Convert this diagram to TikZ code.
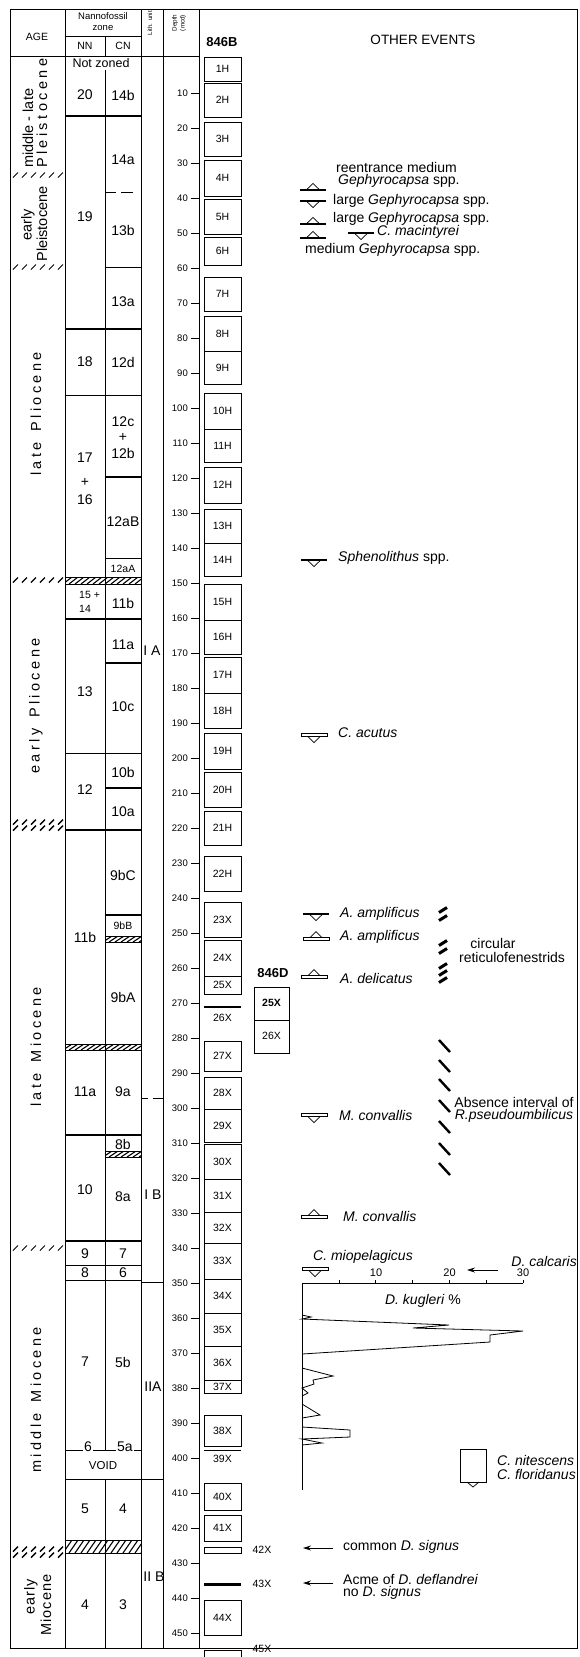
\documentclass[tikz,border=0pt]{standalone}
\usepackage{fontspec}
\setmainfont{Liberation Sans}
\usetikzlibrary{arrows.meta}
\newcommand{\lsp}{\kern3.4pt}
\newcommand{\gsp}{\kern1pt}
\newcommand{\hband}[4]{%
  \begin{scope}
    \clip (#1,#3) rectangle (#2,#4);
    \foreach \hx in {-14,-8,...,86} {\draw[line width=1.1pt] ({#1+\hx},#4) -- ({#1+\hx+9},#3);}
  \end{scope}
  \draw[line width=0.8pt] (#1,#3) rectangle (#2,#4);}
\newcommand{\agemarks}[2]{%
  \foreach \mx in {13,22,...,58} {\draw[line width=#2] (\mx,{#1+2.5}) -- ({\mx+5},{#1-2.5});}}
\newcommand{\core}[3]{\draw[corebox] (204,#1) rectangle (241,#2);
  \node[cl] (core#3) at (222.5,{(#1+#2)/2}) {#3};}
\newcommand{\evup}[2]{\draw[line width=1.6pt] ({#1-13},#2) -- ({#1+13},#2);
  \draw[line width=0.7pt] ({#1-6},{#2-0.8}) -- (#1,{#2-6.5}) -- ({#1+6},{#2-0.8});}
\newcommand{\evdown}[2]{\draw[line width=1.6pt] ({#1-13},#2) -- ({#1+13},#2);
  \draw[line width=0.7pt] ({#1-6},{#2+0.8}) -- (#1,{#2+6.5}) -- ({#1+6},{#2+0.8});}
\newcommand{\evupo}[2]{\draw[line width=0.7pt] ({#1-13},{#2-1.5}) rectangle ({#1+13},{#2+1.5});
  \draw[line width=0.7pt] ({#1-6},{#2-1.5}) -- (#1,{#2-7.5}) -- ({#1+6},{#2-1.5});}
\newcommand{\evdowno}[2]{\draw[line width=0.7pt] ({#1-13},{#2-1.5}) rectangle ({#1+13},{#2+1.5});
  \draw[line width=0.7pt] ({#1-6},{#2+1.5}) -- (#1,{#2+7.5}) -- ({#1+6},{#2+1.5});}
\begin{document}
\begin{tikzpicture}[x=1pt,y=-1pt,
  zl/.style={font=\fontsize{14}{16}\selectfont,inner sep=0pt},
  zs/.style={font=\fontsize{10.5}{12}\selectfont,inner sep=0pt},
  hd/.style={font=\fontsize{10.5}{12}\selectfont,inner sep=0pt},
  dl/.style={font=\fontsize{9.5}{11}\selectfont,inner sep=0pt,anchor=east},
  cl/.style={font=\fontsize{10.5}{12}\selectfont,inner sep=0pt},
  corebox/.style={draw,line width=0.9pt},
  ev/.style={font=\fontsize{14}{16}\selectfont,inner sep=0pt,anchor=west},
  agel/.style={font=\fontsize{14.5}{16}\selectfont,inner sep=0pt,rotate=90},
  bnd/.style={line width=1.6pt},
  bndthin/.style={line width=0.8pt},
  frame/.style={line width=0.9pt},
  arr/.style={line width=0.8pt,-{Stealth[length=8pt,width=5pt]}}]
\useasboundingbox (0,0) rectangle (579,1657);

% ---------- frame and columns
\draw[frame] (10,9) -- (577,9);
\draw[frame] (10,9) -- (10,1648) -- (577,1648) -- (577,9);
\draw[frame] (10,56) -- (199,56);
\draw[frame] (65,36) -- (141,36);
\draw[frame] (65,9) -- (65,1648);
\draw[frame] (105,36) -- (105,56);
\draw[frame] (105,70) -- (105,1450);
\draw[frame] (105,1479) -- (105,1648);
\draw[frame] (141,9) -- (141,1648);
\draw[frame] (163,9) -- (163,1648);
\draw[frame] (199,9) -- (199,1648);

% ---------- header
\node[hd] (hAGE) at (37,37) {AGE};
\node[font=\fontsize{9.5}{11}\selectfont,inner sep=0pt] (hNan) at (103,16) {Nannofossil};
\node[font=\fontsize{9.5}{11}\selectfont,inner sep=0pt] (hZone) at (103,28) {zone};
\node[hd] (hNN) at (85,46) {NN};
\node[hd] (hCN) at (123,46) {CN};
\node[font=\fontsize{6.2}{7}\selectfont,inner sep=0pt,rotate=90] (hLith) at (150,23) {Lith. unit};
\node[font=\fontsize{6.3}{7}\selectfont,inner sep=0pt,rotate=90] (hDepth) at (175,23) {Depth};
\node[font=\fontsize{6.3}{7}\selectfont,inner sep=0pt,rotate=90] (hMcd) at (183,23) {(mcd)};
\node[font=\fontsize{13}{15}\selectfont\bfseries,inner sep=0pt] (h846B) at (222,42) {846B};
\node[font=\fontsize{13.5}{15}\selectfont,inner sep=0pt] (hOther) at (423,40) {OTHER EVENTS};

% ---------- age column
\node[agel,anchor=west] (ageA1) at (28,168) {middle - late};
\node[agel,anchor=west] (ageA2) at (42,168) {P\lsp l\lsp e\lsp i\lsp s\lsp t\lsp o\lsp c\lsp e\lsp n\lsp e};
\node[agel] (ageB1) at (28,225) {early};
\node[agel] (ageB2) at (42,224) {Pleistocene};
\node[agel] (ageC) at (36,414) {l\lsp a\lsp t\lsp e\lsp\ \lsp P\lsp l\lsp i\lsp o\lsp c\lsp e\lsp n\lsp e};
\node[agel] (ageD) at (36,706) {e\lsp a\lsp r\lsp l\lsp y\lsp\ \lsp P\lsp l\lsp i\lsp o\lsp c\lsp e\lsp n\lsp e};
\node[agel] (ageE) at (36,1047) {l\lsp a\lsp t\lsp e\lsp\ \lsp M\lsp i\lsp o\lsp c\lsp e\lsp n\lsp e};
\node[agel] (ageF) at (36,1400) {m\lsp i\lsp d\lsp d\lsp l\lsp e\lsp\ \lsp M\lsp i\lsp o\lsp c\lsp e\lsp n\lsp e};
\node[agel] (ageG1) at (31,1597) {e\gsp a\gsp r\gsp l\gsp y};
\node[agel] (ageG2) at (46,1605) {M\gsp i\gsp o\gsp c\gsp e\gsp n\gsp e};
\agemarks{175}{1pt}
\agemarks{267}{1pt}
\agemarks{580}{1.4pt}
\agemarks{822}{1.4pt}
\agemarks{828}{1.4pt}
\agemarks{1248}{1pt}
\agemarks{1549}{1.4pt}
\agemarks{1555}{1.4pt}

% ---------- nannofossil zones
\node[font=\fontsize{12.5}{14}\selectfont,inner sep=0pt] (zNot) at (101,63) {Not zoned};
\node[zl] (nn20) at (85,95) {20};
\node[zl] (cn14b) at (123,95) {14b};
\draw[bnd] (65,116) -- (141,116);
\node[zl] (nn19) at (85,217) {19};
\node[zl] (cn14a) at (123,160) {14a};
\draw[bndthin] (106,192) -- (116,192) (121,192) -- (133,192);
\node[zl] (cn13b) at (123,230) {13b};
\draw[bndthin] (105,267) -- (141,267);
\node[zl] (cn13a) at (123,302) {13a};
\draw[bnd] (65,329) -- (141,329);
\node[zl] (nn18) at (85,362) {18};
\node[zl] (cn12d) at (123,362) {12d};
\draw[bndthin] (65,395) -- (141,395);
\node[zl] (nn17) at (85,458) {17};
\node[zl] (nnplus) at (85,482) {+};
\node[zl] (nn16) at (85,500) {16};
\node[zl] (cn12c) at (123,422) {12c};
\node[zl] (cnplus) at (123,437) {+};
\node[zl] (cn12b) at (123,453) {12b};
\draw[line width=2.4pt] (105,477) -- (141,477);
\node[zl] (cn12aB) at (123,522) {12aB};
\draw[bndthin] (105,558) -- (141,558);
\node[zs] (cn12aA) at (123,569) {12aA};
\hband{65}{141}{577}{584}
\node[zs,anchor=west] (nn15) at (79,595) {15 +};
\node[zs,anchor=west] (nn14) at (79,609) {14};
\node[zl] (cn11b) at (123,603) {11b};
\draw[bnd] (65,619) -- (141,619);
\node[zl] (nn13) at (85,692) {13};
\node[zl] (cn11a) at (123,645) {11a};
\draw[bnd] (105,663) -- (141,663);
\node[zl] (cn10c) at (123,707) {10c};
\draw[bndthin] (65,753) -- (141,753);
\node[zl] (nn12) at (85,790) {12};
\node[zl] (cn10b) at (123,772) {10b};
\draw[bnd] (105,788) -- (141,788);
\node[zl] (cn10a) at (123,812) {10a};
\draw[bnd] (65,830) -- (141,830);
\node[zl] (nn11b) at (85,937) {11b};
\node[zl] (cn9bC) at (123,875) {9bC};
\draw[bnd] (105,915) -- (141,915);
\node[zs] (cn9bB) at (123,926) {9bB};
\hband{105}{141}{936}{942}
\node[zl] (cn9bA) at (123,997) {9bA};
\hband{65}{141}{1044}{1050}
\node[zl] (nn11a) at (85,1092) {11a};
\node[zl] (cn9a) at (123,1092) {9a};
\draw[bndthin] (142,1098) -- (148,1098) (153,1098) -- (163,1098);
\draw[bnd] (65,1135) -- (141,1135);
\node[zl] (cn8b) at (123,1144) {8b};
\hband{105}{141}{1151}{1157}
\node[zl] (nn10) at (85,1190) {10};
\node[zl] (cn8a) at (123,1197) {8a};
\draw[bnd] (65,1241) -- (141,1241);
\node[zl] (nn9) at (85,1254) {9};
\node[zl] (cn7) at (123,1254) {7};
\draw[bndthin] (65,1265) -- (141,1265);
\node[zl] (nn8) at (85,1273) {8};
\node[zl] (cn6) at (123,1273) {6};
\draw[bndthin] (65,1280) -- (141,1280);
\draw[bndthin] (141,1282) -- (163,1282);
\node[zl] (nn7) at (85,1362) {7};
\node[zl] (cn5b) at (123,1362) {5b};
\draw[bndthin] (65,1450) -- (141,1450);
\node[zl,fill=white,inner sep=1.5pt] (nn6) at (88,1447) {6};
\node[zl,fill=white,inner sep=1.5pt] (cn5a) at (125,1447) {5a};
\node[font=\fontsize{11.5}{13}\selectfont,inner sep=0pt] (zVoid) at (103,1466) {VOID};
\draw[bndthin] (65,1479) -- (163,1479);
\node[zl] (nn5) at (85,1509) {5};
\node[zl] (cn4) at (123,1509) {4};
\hband{65}{141}{1540}{1553}
\node[zl] (nn4) at (85,1605) {4};
\node[zl] (cn3) at (123,1605) {3};

% ---------- lithologic units
\node[zl] (lIA) at (152,651) {I A};
\node[zl] (lIB) at (153,1195) {I B};
\node[zl] (lIIA) at (153,1387) {IIA};
\node[zl] (lIIB) at (154,1577) {II B};

% ---------- depth scale
\foreach \d in {10,20,...,450} {
  \pgfmathsetmacro\yy{58.5+3.5*\d}
  \draw[line width=0.7pt] (191,\yy) -- (199,\yy);
  \node[dl] (dep\d) at (188,\yy) {\d};
}

% ---------- cores 846B
\core{57}{81}{1H}
\core{83}{117}{2H}
\core{122}{156}{3H}
\core{160}{196}{4H}
\core{199}{234}{5H}
\core{237}{265}{6H}
\core{277}{311}{7H}
\core{316}{351}{8H}
\core{351}{384}{9H}
\core{393}{429}{10H}
\core{429}{462}{11H}
\core{467}{503}{12H}
\core{509}{543}{13H}
\core{543}{576}{14H}
\core{584}{620}{15H}
\core{620}{654}{16H}
\core{657}{693}{17H}
\core{693}{728}{18H}
\core{733}{769}{19H}
\core{772}{807}{20H}
\core{811}{845}{21H}
\core{856}{891}{22H}
\core{902}{937}{23X}
\core{940}{976}{24X}
\core{976}{994}{25X}
\draw[line width=2.2pt] (204,1007) -- (241,1007);
\node[cl] (core26X) at (222.5,1018) {26X};
\core{1041}{1071}{27X}
\core{1077}{1109}{28X}
\core{1109}{1142}{29X}
\core{1144}{1179}{30X}
\core{1179}{1212}{31X}
\core{1212}{1243}{32X}
\core{1243}{1279}{33X}
\core{1279}{1313}{34X}
\core{1313}{1346}{35X}
\core{1346}{1380}{36X}
\core{1380}{1393}{37X}
\core{1415}{1446}{38X}
\draw[line width=0.9pt] (204,1450) -- (241,1450);
\node[cl] (core39X) at (222.5,1459) {39X};
\core{1483}{1510}{40X}
\core{1515}{1541}{41X}
\draw[corebox] (204,1547) rectangle (241,1553);
\node[cl] (core42X) at (262,1550) {42X};
\draw[line width=3pt] (204,1584) -- (241,1584);
\node[cl] (core43X) at (262,1584) {43X};
\core{1600}{1635}{44X}
\draw[corebox] (204,1657) -- (204,1650) -- (241,1650) -- (241,1657);
\node[cl] (core45X) at (262,1649) {45X};

% ---------- cores 846D
\node[font=\fontsize{13}{15}\selectfont\bfseries,inner sep=0pt] (h846D) at (273,973) {846D};
\draw[corebox] (254,987) rectangle (289,1020);
\node[cl,font=\fontsize{10.5}{12}\selectfont\bfseries] (d25X) at (271.5,1003) {25X};
\draw[corebox] (254,1020) rectangle (289,1053);
\node[cl] (d26X) at (271.5,1036) {26X};

% ---------- other events
\evup{313}{190}
\node[ev] (e1a) at (336,167) {reentrance medium};
\node[ev] (e1b) at (338,181) {\textit{Gephyrocapsa} spp.};
\evdown{313}{201}
\node[ev] (e2) at (333,201) {large \textit{Gephyrocapsa} spp.};
\evup{313}{224}
\node[ev] (e3) at (333,219) {large \textit{Gephyrocapsa} spp.};
\evup{313}{238}
\evdown{361}{233}
\node[ev] (e4) at (377,232) {\textit{C. macintyrei}};
\node[ev] (e5) at (305,250) {medium \textit{Gephyrocapsa} spp.};
\evdown{314}{560}
\node[ev] (e6) at (338,558) {\textit{Sphenolithus} spp.};
\evdowno{314}{735}
\node[ev] (e7) at (338,733) {\textit{C. acutus}};
\evdown{316}{914}
\node[ev] (e8) at (340,914) {\textit{A. amplificus}};
\evupo{316}{939}
\node[ev] (e9) at (340,937) {\textit{A. amplificus}};
\evupo{314}{977}
\node[ev] (e10) at (340,978) {\textit{A. delicatus}};
\evdowno{314}{1115}
\node[ev] (e11) at (339,1115) {\textit{M. convallis}};
\evupo{314}{1217}
\node[ev] (e12) at (343,1216) {\textit{M. convallis}};

% circular reticulofenestrids markers
\foreach \yy in {910,918,943,951,966,973,980}
  \draw[line width=3pt] (439,{\yy+2.5}) -- (447,{\yy-2.5});
\node[font=\fontsize{14}{16}\selectfont,inner sep=0pt] (circ1) at (493,943) {circular};
\node[font=\fontsize{14}{16}\selectfont,inner sep=0pt] (circ2) at (512,957) {reticulofenestrids};

% absence interval markers
\foreach \yy in {1046,1066,1085,1106,1127,1149,1169}
  \draw[line width=2.4pt] (439,{\yy-6}) -- (450,{\yy+6});
\node[font=\fontsize{14}{16}\selectfont,inner sep=0pt] (abs1) at (514,1102) {Absence interval of};
\node[font=\fontsize{14}{16}\selectfont,inner sep=0pt] (abs2) at (514,1116) {\textit{R.pseudoumbilicus}};

% ---------- D. kugleri graph
\evdowno{315}{1269}
\node[font=\fontsize{14}{16}\selectfont,inner sep=0pt] (e13) at (363,1257) {\textit{C. miopelagicus}};
\node[font=\fontsize{14}{16}\selectfont,inner sep=0pt,anchor=east] (calc) at (577,1261) {\textit{D. calcaris}};
\coordinate (calcS) at (498,1270);
\coordinate (calcE) at (467,1270);
\draw[arr] (calcS) -- (calcE);
\draw[line width=0.8pt] (302,1283) -- (523,1283);
\draw[line width=0.8pt] (302,1283) -- (302,1490);
\foreach \p in {5,10,...,30}
  \draw[line width=0.7pt] ({302+7.37*\p},1283) -- ({302+7.37*\p},1280);
\node[font=\fontsize{11}{12}\selectfont,inner sep=0pt] (ax10) at (376,1273) {10};
\node[font=\fontsize{11}{12}\selectfont,inner sep=0pt] (ax20) at (449.5,1273) {20};
\node[font=\fontsize{11}{12}\selectfont,inner sep=0pt] (ax30) at (523,1273) {30};
\node[font=\fontsize{14}{16}\selectfont,inner sep=0pt] (kug) at (423,1301) {\textit{D. kugleri} \%};
\draw[line width=0.8pt] (302,1315) -- (311,1317) -- (302,1319) -- (449,1325) -- (413,1328)
  -- (523,1331) -- (490,1335) -- (490,1342) -- (302,1354);
\draw[line width=0.8pt] (302,1368) -- (333,1376) -- (313,1380) -- (314,1384) -- (302,1388)
  -- (308,1393) -- (302,1396);
\draw[line width=0.8pt] (302,1404) -- (320,1415) -- (302,1418);
\draw[line width=0.8pt] (302,1427) -- (350,1430) -- (350,1437) -- (302,1439) -- (322,1443) -- (302,1445);

% C. nitescens / C. floridanus
\draw[line width=0.8pt] (460,1449) rectangle (486,1482);
\draw[line width=0.7pt] (467,1482) -- (473,1487) -- (479,1482);
\node[ev] (nit) at (497,1460) {\textit{C. nitescens}};
\node[ev] (flo) at (497,1474) {\textit{C. floridanus}};

% arrows D. signus
\coordinate (sigS) at (333,1548);
\coordinate (sigE) at (303,1548);
\draw[arr] (sigS) -- (sigE);
\node[ev] (sig) at (343,1547) {common \textit{D. signus}};
\coordinate (acmS) at (333,1583);
\coordinate (acmE) at (303,1583);
\draw[arr] (acmS) -- (acmE);
\node[ev] (acm1) at (343,1579) {Acme of \textit{D. deflandrei}};
\node[ev] (acm2) at (343,1593) {no \textit{D. signus}};
\end{tikzpicture}
\end{document}
